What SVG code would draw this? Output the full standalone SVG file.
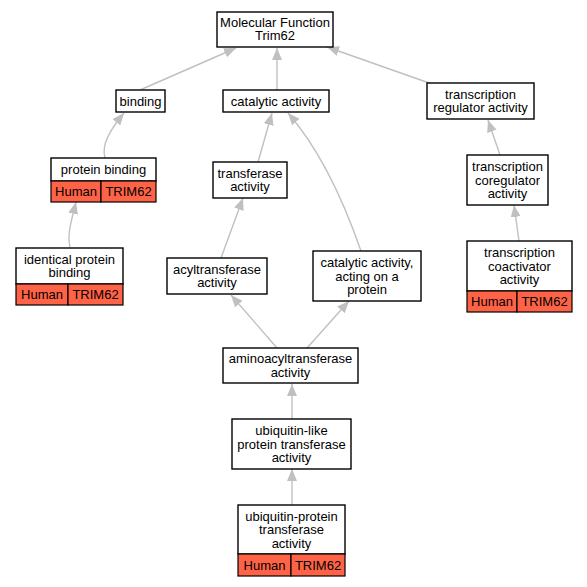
<svg xmlns="http://www.w3.org/2000/svg" width="587" height="587" viewBox="0 0 587 587">
<style>
.n{fill:#ffffff;stroke:#000000;stroke-width:1.4}
.r{fill:#ff6347;stroke:#000000;stroke-width:1.2}
.t{font-family:"Liberation Sans",Arial,sans-serif;font-size:13px;fill:#000000;text-anchor:middle}
.e{fill:none;stroke:#c0c0c0;stroke-width:1.4}
</style>
<defs>
<marker id="ah" viewBox="0 0 12 10" refX="12" refY="5" markerWidth="12" markerHeight="10" markerUnits="userSpaceOnUse" orient="auto">
<path d="M0,0 L12,5 L0,10 z" fill="#c0c0c0"/>
</marker>
</defs>
<rect width="587" height="587" fill="#ffffff"/>
<g id="edges">
<path class="e" marker-end="url(#ah)" d="M140,90 L236,48"/>
<path class="e" marker-end="url(#ah)" d="M277,90 L277,48"/>
<path class="e" marker-end="url(#ah)" d="M432,84 L327,47"/>
<path class="e" marker-end="url(#ah)" d="M105,158 C101,145 110,130 124,113"/>
<path class="e" marker-end="url(#ah)" d="M70,247 C67,235 71,222 76,202"/>
<path class="e" marker-end="url(#ah)" d="M258,162 L272,113"/>
<path class="e" marker-end="url(#ah)" d="M361,251 C345,205 322,152 288,113"/>
<path class="e" marker-end="url(#ah)" d="M221,258 L243,198"/>
<path class="e" marker-end="url(#ah)" d="M277,348 L231,295"/>
<path class="e" marker-end="url(#ah)" d="M307,348 L349,301"/>
<path class="e" marker-end="url(#ah)" d="M292,420 L292,384"/>
<path class="e" marker-end="url(#ah)" d="M292,505 L292,469"/>
<path class="e" marker-end="url(#ah)" d="M500,155 L488,120"/>
<path class="e" marker-end="url(#ah)" d="M519,241 L514,205"/>
</g>
<g id="mf">
<rect class="n" x="217" y="12" width="116" height="35"/>
<text class="t" x="275" y="26.8">Molecular Function</text>
<text class="t" x="275" y="40.3">Trim62</text>
</g>
<g id="binding">
<rect class="n" x="116" y="90" width="49" height="22"/>
<text class="t" x="140.5" y="105.5">binding</text>
</g>
<g id="catalytic">
<rect class="n" x="223" y="90" width="106" height="22"/>
<text class="t" x="276" y="105.5">catalytic activity</text>
</g>
<g id="transreg">
<rect class="n" x="427" y="83" width="107" height="36"/>
<text class="t" x="480.5" y="98.7">transcription</text>
<text class="t" x="480.5" y="112.2">regulator activity</text>
</g>
<g id="proteinbinding">
<rect class="n" x="51" y="158" width="105" height="23"/>
<text class="t" x="103.5" y="174">protein binding</text>
<rect class="r" x="51" y="181" width="50" height="21"/>
<rect class="r" x="101" y="181" width="55" height="21"/>
<text class="t" x="76" y="196">Human</text>
<text class="t" x="128.5" y="196">TRIM62</text>
</g>
<g id="transferase">
<rect class="n" x="213" y="162" width="74" height="36"/>
<text class="t" x="250" y="177.7">transferase</text>
<text class="t" x="250" y="191.2">activity</text>
</g>
<g id="identical">
<rect class="n" x="16" y="248" width="107" height="36"/>
<text class="t" x="69.5" y="263.7">identical protein</text>
<text class="t" x="69.5" y="277.2">binding</text>
<rect class="r" x="16" y="284" width="52" height="21"/>
<rect class="r" x="68" y="284" width="55" height="21"/>
<text class="t" x="42" y="299">Human</text>
<text class="t" x="95.5" y="299">TRIM62</text>
</g>
<g id="acyl">
<rect class="n" x="167" y="258" width="100" height="36"/>
<text class="t" x="217" y="273.7">acyltransferase</text>
<text class="t" x="217" y="287.2">activity</text>
</g>
<g id="catprotein">
<rect class="n" x="313" y="251" width="108" height="50"/>
<text class="t" x="367" y="267">catalytic activity,</text>
<text class="t" x="367" y="280.5">acting on a</text>
<text class="t" x="367" y="294">protein</text>
</g>
<g id="coreg">
<rect class="n" x="467" y="155" width="81" height="50"/>
<text class="t" x="507.5" y="171">transcription</text>
<text class="t" x="507.5" y="184.5">coregulator</text>
<text class="t" x="507.5" y="198">activity</text>
</g>
<g id="coact">
<rect class="n" x="467" y="241" width="105" height="50"/>
<text class="t" x="519.5" y="257">transcription</text>
<text class="t" x="519.5" y="270.5">coactivator</text>
<text class="t" x="519.5" y="284">activity</text>
<rect class="r" x="467" y="291" width="50" height="21"/>
<rect class="r" x="517" y="291" width="55" height="21"/>
<text class="t" x="492" y="306">Human</text>
<text class="t" x="544.5" y="306">TRIM62</text>
</g>
<g id="aminoacyl">
<rect class="n" x="223" y="348" width="135" height="35"/>
<text class="t" x="290.5" y="363.2">aminoacyltransferase</text>
<text class="t" x="290.5" y="376.7">activity</text>
</g>
<g id="ubl">
<rect class="n" x="232" y="419" width="119" height="50"/>
<text class="t" x="291.5" y="435">ubiquitin-like</text>
<text class="t" x="291.5" y="448.5">protein transferase</text>
<text class="t" x="291.5" y="462">activity</text>
</g>
<g id="ubp">
<rect class="n" x="238" y="505" width="107" height="49"/>
<text class="t" x="291.5" y="520.5">ubiquitin-protein</text>
<text class="t" x="291.5" y="534">transferase</text>
<text class="t" x="291.5" y="547.5">activity</text>
<rect class="r" x="238" y="554" width="53" height="22"/>
<rect class="r" x="291" y="554" width="54" height="22"/>
<text class="t" x="264.5" y="569.5">Human</text>
<text class="t" x="318" y="569.5">TRIM62</text>
</g>
</svg>
